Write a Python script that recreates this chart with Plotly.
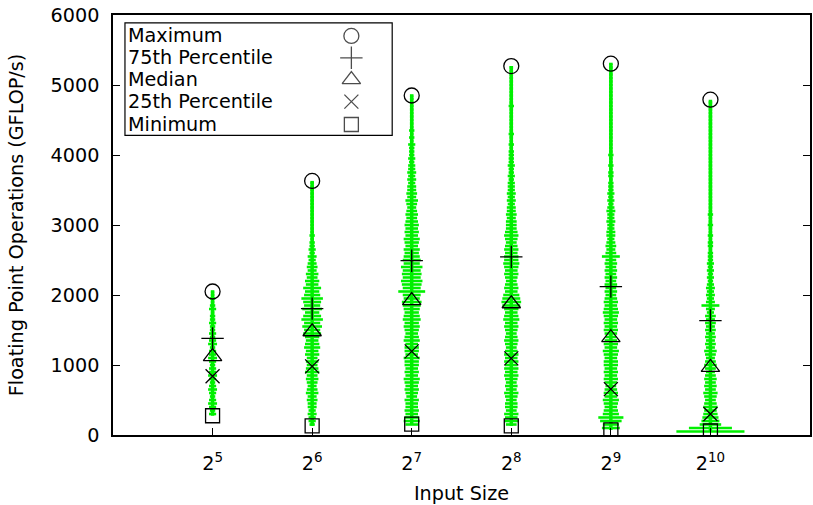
import plotly.graph_objects as go

# ---------------- data ----------------
sizes_log2 = [5, 6, 7, 8, 9, 10]
tick_labels = ["2<sup>5</sup>", "2<sup>6</sup>", "2<sup>7</sup>", "2<sup>8</sup>", "2<sup>9</sup>", "2<sup>10</sup>"]

maximum = [2050, 3630, 4850, 5270, 5305, 4790]
p75 = [1380, 1805, 2490, 2545, 2120, 1635]
median = [1120, 1475, 1920, 1875, 1390, 965]
p25 = [840, 980, 1195, 1095, 655, 300]
minimum = [275, 130, 155, 130, 72, 57]

# violin profile: first level, step, half-widths (in 1/100 of an x unit)
violin_start = [300, 150, 150, 150, 100, 50]
violin_step = 50
violin_w = [
    # 2^5
    [4, 3, 4, 5, 4, 3, 4, 5, 4, 3, 4, 5, 4, 4, 3, 4, 5, 4, 4, 3, 5, 4, 3, 4, 3, 3, 4, 3, 3, 2, 4, 3, 2, 3, 2, 2],
    # 2^6
    [3, 4, 4, 5, 4, 5,
     5, 6, 5, 7, 6, 5, 6, 7, 6, 8, 7, 6,
     7, 6, 8, 7, 9, 8, 7, 8, 10, 9,
     11, 9, 12, 10, 8, 11, 9, 10, 12, 9, 8, 10,
     7, 8, 6, 7, 5, 6, 5, 4, 5, 3,
     4, 3, 3, 2, 3, 2, 2, 2,
     2, 2, 2, 2, 2, 2, 2, 2, 2, 2, 2, 2],
    # 2^7
    [7, 9, 8, 7, 8, 7,
     7, 8, 6, 7, 8, 7, 8, 9, 7, 8, 7, 8,
     8, 9, 7, 8, 8, 7, 9, 8, 7, 8,
     9, 8, 10, 9, 8, 9, 10, 11, 9, 10,
     15, 10, 11, 12, 10, 11, 10, 12, 9, 10,
     9, 8, 9, 7, 8, 9, 7, 8, 7, 8,
     7, 6, 7, 6, 5, 6, 7, 5, 6, 5,
     5, 4, 5, 4, 5, 4, 4, 3, 4, 3,
     3, 3, 4, 2, 3, 2, 3, 2, 2, 2,
     2, 2, 2, 2, 2, 2, 2],
    # 2^8
    [6, 8, 7, 8, 6, 7,
     7, 6, 7, 8, 6, 7, 6, 7, 8, 7, 8, 7,
     8, 7, 8, 7, 6, 7, 8, 7, 6, 7,
     8, 7, 9, 8, 7, 8, 10, 11, 10, 9,
     7, 8, 7, 6, 7, 8, 7, 8, 9, 8,
     8, 7, 8, 7, 6, 7, 8, 7, 6, 6,
     6, 5, 6, 5, 5, 4, 5, 4, 5, 4,
     4, 4, 3, 4, 3, 3, 4, 3, 3, 3,
     3, 2, 3, 2, 2, 3, 2, 2, 2, 2,
     2, 2, 2, 3, 2, 2, 2, 2, 2, 2,
     2, 2, 2, 2, 2],
    # 2^9
    [10, 9, 12, 14, 9, 8, 7,
     8, 9, 7, 8, 7, 6, 7, 8, 7, 8, 7, 8,
     8, 7, 8, 9, 7, 8, 7, 6, 7, 8,
     7, 8, 7, 8, 9, 8, 7, 8, 7, 6,
     7, 6, 7, 6, 7, 6, 7, 6, 7, 6,
     10, 6, 5, 6, 5, 4, 5, 5, 4, 4,
     5, 4, 4, 5, 4, 3, 4, 3, 4, 3,
     3, 3, 2, 3, 3, 2, 3, 2, 2, 3,
     2, 2, 2, 2, 2, 2, 2, 2, 2, 2,
     2, 2, 2, 2, 2, 2, 2, 2, 2, 2,
     2, 2, 2, 2, 2, 2],
    # 2^10
    [38, 24, 12, 10, 9, 8, 7, 8,
     7, 6, 7, 8, 6, 7, 6, 7, 6, 5, 6, 7,
     6, 5, 6, 7, 5, 6, 5, 6, 5, 6,
     5, 6, 5, 6, 4, 5, 10, 5, 4, 5,
     4, 5, 4, 3, 4, 3, 4, 3, 4, 3,
     3, 3, 2, 3, 3, 2, 3, 2, 2, 3,
     2, 2, 3, 2, 2, 2, 2, 2, 2, 2,
     2, 2, 2, 2, 2, 2, 2, 2, 2, 2,
     2, 2, 2, 2, 2, 2, 2, 2, 2, 2,
     2, 2, 2, 2, 2, 2],
]

legend_names = ["Maximum", "75th Percentile", "Median", "25th Percentile", "Minimum"]
legend_symbols = ["circle-open", "cross-thin-open", "triangle-up-open", "x-thin-open", "square-open"]
stat_series = [maximum, p75, median, p25, minimum]
symbol_sizes = [15, 16, 16, 14, 14]

GREEN = "#00f000"
FONT = "DejaVu Sans"
FS = 19.2
WIDTH_SCALE = 0.9

fig = go.Figure()

# violins
for i, c in enumerate(sizes_log2):
    xs, ys = [], []
    for k, w in enumerate(violin_w[i]):
        yv = violin_start[i] + k * violin_step
        if yv > maximum[i]:
            break
        hw = WIDTH_SCALE * w / 100.0
        xs += [c - hw, c + hw, None]
        ys += [yv, yv, None]
    fig.add_trace(go.Scatter(x=xs, y=ys, mode="lines", line=dict(color=GREEN, width=2.6),
                             showlegend=False, hoverinfo="skip"))
    fig.add_trace(go.Scatter(x=[c, c], y=[minimum[i], maximum[i]], mode="lines",
                             line=dict(color=GREEN, width=3.5), showlegend=False, hoverinfo="skip"))

# statistic markers
for name, sym, ser, sz in zip(legend_names, legend_symbols, stat_series, symbol_sizes):
    fig.add_trace(go.Scatter(x=sizes_log2, y=ser, mode="markers", name=name,
                             marker=dict(symbol=sym, size=sz, color="black",
                                         line=dict(color="black", width=1.3)),
                             showlegend=False))

# custom legend (symbols on the right, like gnuplot)
x0p, x1p = 113, 812
y0p, y1p = 15, 437
def px(xp):
    return (xp - x0p) / (x1p - x0p)
def py(yp):
    return (y1p - yp) / (y1p - y0p)

row_y = [36, 58, 80, 102, 125]
fig.add_trace(go.Scatter(x=[0.342] * 5, y=[py(v) for v in row_y], xaxis="x2", yaxis="y2",
                         mode="markers", showlegend=False, hoverinfo="skip",
                         marker=dict(symbol=legend_symbols, size=symbol_sizes, color="black",
                                     line=dict(color="black", width=1.3))))
annotations = []
for name, yv in zip(legend_names, row_y):
    annotations.append(dict(x=px(126), y=py(yv), xref="paper", yref="paper", text=name,
                            showarrow=False, xanchor="left", yanchor="middle",
                            font=dict(family=FONT, size=FS, color="black")))

shapes = [dict(type="rect", xref="paper", yref="paper", x0=px(125), x1=px(393),
               y0=py(136), y1=py(23), line=dict(color="black", width=1.2))]

fig.update_layout(
    width=813, height=505,
    margin=dict(l=113, r=1, t=15, b=68),
    paper_bgcolor="white", plot_bgcolor="white",
    font=dict(family=FONT, size=FS, color="black"),
    showlegend=False,
    annotations=annotations,
    shapes=shapes,
    xaxis=dict(range=[4, 11], tickvals=sizes_log2, ticktext=tick_labels,
               ticks="inside", ticklen=7, tickcolor="black", showgrid=False, zeroline=False,
               showline=True, linecolor="black", linewidth=1.5, mirror=True,
               ticklabelstandoff=10,
               title=dict(text="Input Size", standoff=16,
                          font=dict(family=FONT, size=FS, color="black")),
               tickfont=dict(family=FONT, size=FS)),
    yaxis=dict(range=[0, 6000], dtick=1000, ticks="inside", ticklen=7, tickcolor="black",
               showgrid=False, zeroline=False, showline=True, linecolor="black",
               linewidth=1.5, mirror="ticks", ticklabelstandoff=8,
               title=dict(text="Floating Point Operations (GFLOP/s)", standoff=22,
                          font=dict(family=FONT, size=FS, color="black")),
               tickfont=dict(family=FONT, size=FS)),
    xaxis2=dict(range=[0, 1], overlaying="x", visible=False),
    yaxis2=dict(range=[0, 1], overlaying="y", visible=False),
)

fig.write_html("out.html")
